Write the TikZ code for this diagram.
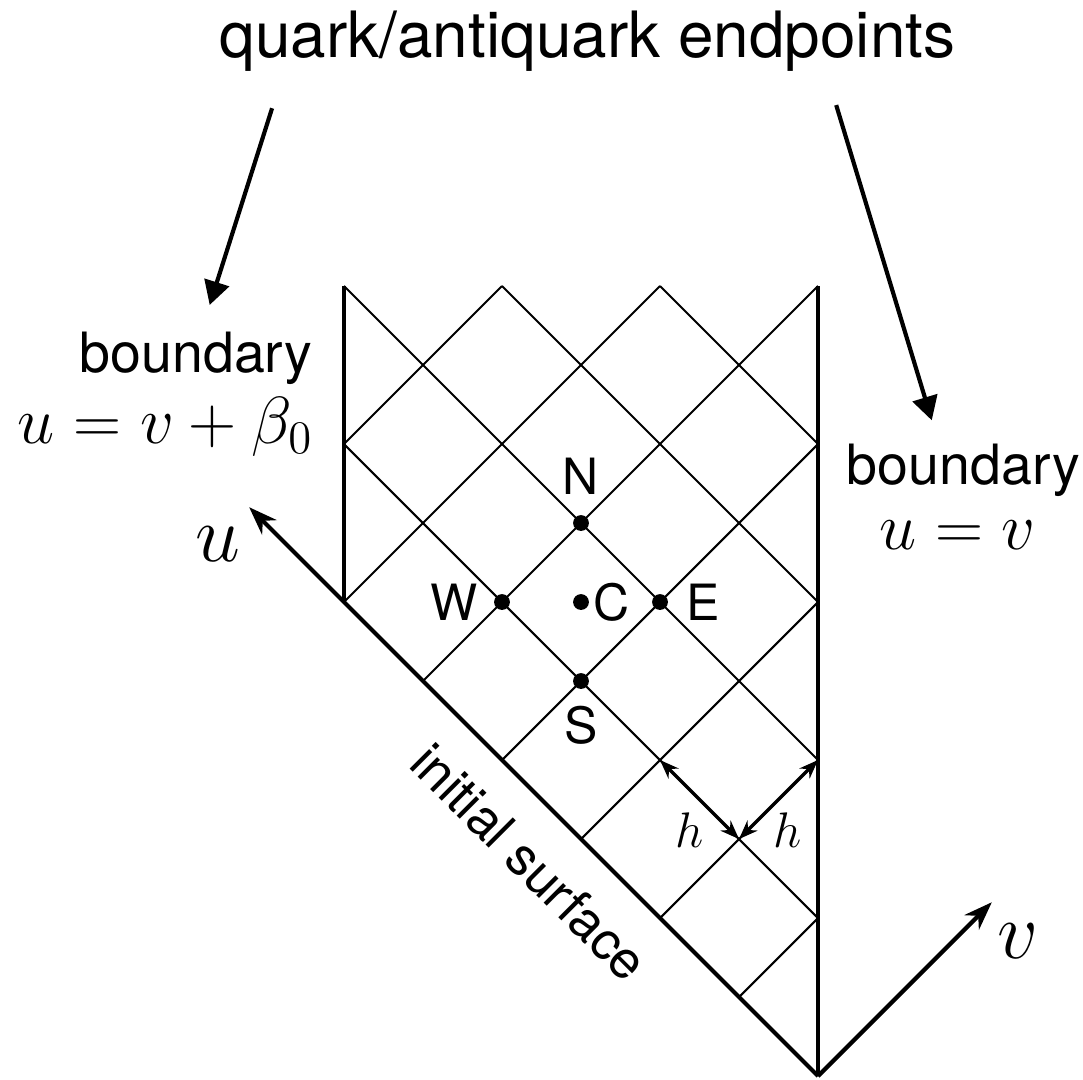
\RequirePackage{fix-cm}
\documentclass[tikz,border=0pt]{standalone}
\usepackage[no-math]{fontspec}
\usepackage{tikz}
\usetikzlibrary{positioning,arrows.meta}
\newfontfamily\helv{TeX Gyre Heros}

\begin{document}
\begin{tikzpicture}[
            gridline/.style={line width=0.75pt},
            wall/.style={line width=1.7pt},
            axis/.style={line width=1.5pt, -{Stealth[length=0.36cm, width=0.26cm]}},
            pointer/.style={line width=1.5pt, -{Triangle[length=0.3cm, width=0.32cm]}},
            harrow/.style={line width=1.2pt, {Stealth[length=0.24cm, width=0.18cm]}-{Stealth[length=0.24cm, width=0.18cm]}},
            gridpt/.style={circle, fill=black, inner sep=0pt, minimum size=0.2cm},
            ptlabel/.style={inner sep=0pt, font=\helv\fontsize{18}{22}\selectfont},
            sftext/.style={inner sep=0pt, font=\helv\fontsize{20}{24}\selectfont},
            bigtext/.style={inner sep=0pt, font=\helv\fontsize{23}{28}\selectfont},
            mathlabel/.style={inner sep=0pt, font=\fontsize{24}{29}\selectfont},
            axislabel/.style={inner sep=0pt, font=\fontsize{29}{35}\selectfont},
            hlabel/.style={inner sep=0pt, font=\fontsize{18}{22}\selectfont}
        ]
        \useasboundingbox (-10.354,-0.038) rectangle (3.354,13.62);

        % Gitter
        \foreach \xa/\ya/\xb/\yb in {-1/1/0/2, -2/2/0/4, -3/3/0/6, -4/4/0/8, -5/5/0/10, -6/6/-2/10, -6/8/-4/10, 0/2/-6/8, 0/4/-6/10, 0/6/-4/10, 0/8/-2/10}
            \draw[gridline] (\xa,\ya) -- (\xb,\yb);

        % Raender
        \coordinate (O) at (0,0);
        \coordinate (Rtop) at (0,10);
        \coordinate (Lbot) at (-6,6);
        \coordinate (Ltop) at (-6,10);
        \draw[wall] (O) -- (Rtop);
        \draw[wall] (Lbot) -- (Ltop);

        % Achsen
        \coordinate (uTip) at (-7.2,7.2);
        \coordinate (vTip) at (2.2,2.2);
        \draw[axis] (O) -- (uTip);
        \draw[axis] (O) -- (vTip);
        \node[axislabel] (ulab) at (-7.6,6.73) {$u$};
        \node[axislabel] (vlab) at (2.53,1.71) {$v$};
        \node[sftext, rotate=-45, font=\helv\fontsize{19}{23}\selectfont] (initlab) at (-3.65,2.71) {initial surface};

        % Punkte
        \node[gridpt] (N) at (-3,7) {};
        \node[gridpt] (S) at (-3,5) {};
        \node[gridpt] (W) at (-4,6) {};
        \node[gridpt] (E) at (-2,6) {};
        \node[gridpt] (C) at (-3,6) {};
        \node[ptlabel, above=0.25cm of N] (Nlab) {N};
        \node[ptlabel, below=0.2cm of S] (Slab) {S};
        \node[ptlabel, left=0.19cm of W] (Wlab) {W};
        \node[ptlabel, right=0.22cm of E] (Elab) {E};
        \node[ptlabel, right=0.04cm of C] (Clab) {C};

        % Schrittweite
        \coordinate (hA) at (-2,4);
        \coordinate (hB) at (-1,3);
        \coordinate (hC) at (0,4);
        \draw[harrow] (hA) -- (hB);
        \draw[harrow] (hB) -- (hC);
        \node[hlabel] (h1) at (-1.62,3.11) {$h$};
        \node[hlabel] (h2) at (-0.38,3.11) {$h$};

        % Beschriftungen
        \node[sftext, anchor=base east] (bndL) at (-6.39,8.91) {boundary};
        \node[mathlabel, anchor=base east] (bndLmath) at (-6.39,8.01) {$u=v+\beta_0$};
        \node[sftext, anchor=base] (bndR) at (1.84,7.49) {boundary};
        \node[mathlabel, anchor=base] (bndRmath) at (1.77,6.66) {$u=v$};
        \node[bigtext, anchor=base] (title) at (-2.92,12.89) {quark/antiquark endpoints};

        % Pfeile
        \coordinate (qL) at (-6.91,12.25);
        \coordinate (qLtip) at (-7.70,9.76);
        \coordinate (qR) at (0.23,12.29);
        \coordinate (qRtip) at (1.44,8.30);
        \draw[pointer] (qL) -- (qLtip);
        \draw[pointer] (qR) -- (qRtip);

    \end{tikzpicture}
\end{document}
